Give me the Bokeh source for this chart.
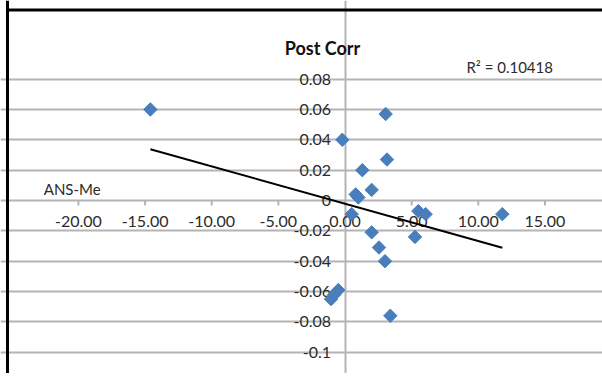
import numpy as np
from bokeh.plotting import figure
from bokeh.models import Range1d, Grid, FixedTicker, Label, Span, ColumnDataSource
from bokeh.core.properties import value
from bokeh.embed import file_html
from bokeh.resources import INLINE

# ---- data ----
ans_me = [-14.6, 3.05, -0.2, 3.15, 1.3, 2.0, 0.8, 1.0, 0.5, 5.5, 6.05, 11.8,
          2.0, 5.25, 2.55, 3.0, -0.5, -0.8, -1.05, 3.4]
post_corr = [0.060, 0.057, 0.040, 0.027, 0.020, 0.007, 0.004, 0.002, -0.009, -0.007,
             -0.009, -0.009, -0.021, -0.024, -0.031, -0.040, -0.059, -0.062, -0.065, -0.076]
trend_slope = -0.00246
trend_intercept = -0.0021
r2_text = "R\u00b2 = 0.10418"
x_ticks = [-20, -15, -10, -5, 0, 5, 10, 15]
x_labels = ["-20.00", "-15.00", "-10.00", "-5.00", "0.00", "5.00", "10.00", "15.00"]
y_ticks = [0.08, 0.06, 0.04, 0.02, 0, -0.02, -0.04, -0.06, -0.08, -0.1]
y_labels = ["0.08", "0.06", "0.04", "0.02", "0", "-0.02", "-0.04", "-0.06", "-0.08", "-0.1"]
title_text = "Post Corr"
x_title = "ANS-Me"

# ---- layout ----
W, H = 602, 373
sx = 13.33      # px per x unit
sy = 1517.0     # px per y unit
x0_px, y0_px = 344.5, 200.0   # canvas position of the origin
x_lo = -x0_px / sx
x_hi = x_lo + W / sx
y_hi = y0_px / sy
y_lo = y_hi - H / sy

p = figure(width=W, height=H, output_backend="svg", toolbar_location=None,
           x_range=Range1d(x_lo, x_hi), y_range=Range1d(y_lo, y_hi),
           x_axis_location=None, y_axis_location=None, min_border=0)
p.outline_line_color = None
p.background_fill_color = "white"
p.grid.visible = False

grid_col = "#b4b4b4"
p.add_layout(Grid(dimension=1, ticker=FixedTicker(ticks=y_ticks),
                  bounds=(min(x_ticks), max(x_ticks)),
                  grid_line_color=grid_col, grid_line_width=2))
p.add_layout(Grid(dimension=0, ticker=FixedTicker(ticks=[0]),
                  bounds=(min(y_ticks), max(y_ticks)),
                  grid_line_color=grid_col, grid_line_width=2))

# x-axis tick marks
p.ray(x=x_ticks, y=[0] * len(x_ticks), length=5, length_units="screen",
      angle=-np.pi / 2, line_color=grid_col, line_width=2)

tick_font = value("Lato")
p.text(x=x_ticks, y=[0] * len(x_ticks), text=x_labels, text_align="center",
       text_baseline="middle", y_offset=21, text_font=tick_font,
       text_font_size="16px", text_color="#2b2b2b")
p.text(x=[0] * len(y_ticks), y=y_ticks, text=y_labels, text_align="right",
       text_baseline="middle", x_offset=-14, text_font=tick_font,
       text_font_size="16px", text_color="#2b2b2b")

# trendline
tx = np.array([min(ans_me), max(ans_me)])
p.line(tx, trend_slope * tx + trend_intercept, line_color="black", line_width=2)

# points
src = ColumnDataSource(dict(x=ans_me, y=post_corr))
p.scatter("x", "y", source=src, marker="square", angle=np.pi / 4, size=9.5,
          fill_color="#4a7ebb", line_color="#4a7ebb")

p.add_layout(Label(x=-1.69, y=0.1002, text=title_text, text_align="center",
                   text_baseline="middle", text_font="Lato", text_font_style="bold",
                   text_font_size="18px", text_color="#111111"))
p.add_layout(Label(x=-22.6, y=0.0079, text=x_title, text_align="left",
                   text_baseline="middle", text_font="Lato",
                   text_font_size="15px", text_color="#2b2b2b"))
p.add_layout(Label(x=9.11, y=0.0883, text=r2_text, text_align="left",
                   text_baseline="middle", text_font="Lato",
                   text_font_size="15px", text_color="#2b2b2b"))

# chart frame (left and top edges visible, the rest runs past the window)
frame_left = x_lo + 7 / sx
frame_top = y_hi - 9.5 / sy
p.add_layout(Span(location=frame_left, dimension="height",
                  line_color="black", line_width=3))
p.segment(x0=[frame_left - 1.5 / sx], y0=[frame_top], x1=[x_hi + 1], y1=[frame_top],
          line_color="black", line_width=3)

open("out.html", "w").write(file_html(p, INLINE))
